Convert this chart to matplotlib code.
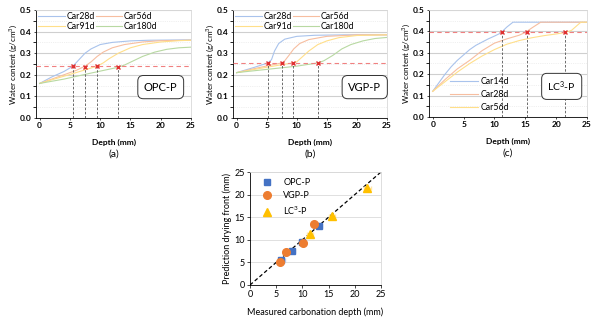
import numpy as np
import matplotlib
matplotlib.use("Agg")
import matplotlib.pyplot as plt
from matplotlib.ticker import MultipleLocator

# ---- data ----
# (a) OPC-P
opc_28_x = [0, 2, 4, 5.5, 6.5, 7.5, 8.5, 10, 12, 15, 18, 25]
opc_28_y = [0.16, 0.19, 0.215, 0.24, 0.27, 0.30, 0.32, 0.34, 0.35, 0.357, 0.36, 0.362]
opc_56_x = [0, 3, 6, 7.5, 8.5, 9.5, 10.5, 12, 14, 17, 20, 25]
opc_56_y = [0.16, 0.19, 0.22, 0.24, 0.26, 0.285, 0.305, 0.325, 0.34, 0.352, 0.358, 0.36]
opc_91_x = [0, 3, 6, 9.5, 10.5, 11.5, 13, 15, 17, 20, 23, 25]
opc_91_y = [0.16, 0.185, 0.21, 0.24, 0.255, 0.275, 0.30, 0.325, 0.34, 0.352, 0.358, 0.36]
opc_180_x = [0, 4, 8, 13, 14, 15.5, 17, 19, 21, 23, 25]
opc_180_y = [0.16, 0.18, 0.205, 0.235, 0.245, 0.265, 0.285, 0.305, 0.318, 0.325, 0.328]
opc_front = [5.5, 7.5, 9.5, 13.0]
opc_front_y = [0.24, 0.238, 0.24, 0.236]
opc_crit = 0.24

# (b) VGP-P
vgp_28_x = [0, 3, 5.2, 5.8, 6.3, 7, 8, 10, 13, 18, 25]
vgp_28_y = [0.21, 0.235, 0.255, 0.27, 0.31, 0.345, 0.365, 0.378, 0.383, 0.385, 0.385]
vgp_56_x = [0, 4, 7.5, 8, 8.7, 9.5, 10.5, 12, 15, 20, 25]
vgp_56_y = [0.21, 0.235, 0.255, 0.265, 0.29, 0.32, 0.345, 0.363, 0.378, 0.385, 0.385]
vgp_91_x = [0, 5, 9.3, 10, 11, 12, 13.5, 15, 17, 20, 25]
vgp_91_y = [0.21, 0.235, 0.255, 0.26, 0.285, 0.31, 0.34, 0.357, 0.372, 0.382, 0.385]
vgp_180_x = [0, 5, 10, 13.5, 14.5, 16, 17.5, 19, 21, 23, 25]
vgp_180_y = [0.21, 0.225, 0.24, 0.255, 0.265, 0.29, 0.32, 0.34, 0.357, 0.368, 0.373]
vgp_front = [5.2, 7.5, 9.3, 13.5]
vgp_front_y = [0.255, 0.255, 0.255, 0.255]
vgp_crit = 0.255

# (c) LC3-P
lc3_14_x = [0, 1, 2, 3, 4, 5, 6, 7, 8, 9, 10, 11, 12, 13, 25]
lc3_14_y = [0.12, 0.16, 0.2, 0.235, 0.265, 0.29, 0.315, 0.335, 0.35, 0.365, 0.378, 0.392, 0.42, 0.443, 0.443]
lc3_28_x = [0, 2, 4, 6, 8, 10, 12, 14, 15, 16, 17.5, 25]
lc3_28_y = [0.12, 0.175, 0.225, 0.265, 0.31, 0.345, 0.365, 0.382, 0.395, 0.415, 0.443, 0.443]
lc3_56_x = [0, 2, 4, 6, 8, 10, 12, 14, 16, 18, 20, 21.5, 22.5, 24, 25]
lc3_56_y = [0.12, 0.165, 0.21, 0.25, 0.285, 0.315, 0.34, 0.357, 0.37, 0.38, 0.388, 0.395, 0.405, 0.443, 0.443]
lc3_front = [11.2, 15.2, 21.4]
lc3_front_y = [0.395, 0.395, 0.395]
lc3_crit = 0.395

# (d) measured vs predicted
opc_meas = [6.0, 8.0, 10.0, 13.2]
opc_pred = [5.5, 7.5, 9.5, 13.0]
vgp_meas = [5.7, 6.9, 10.1, 12.3]
vgp_pred = [5.1, 7.4, 9.3, 13.5]
lc3_meas = [11.5, 15.6, 22.4]
lc3_pred = [11.2, 15.3, 21.5]

c_blue = "#a9c3ec"
c_orange = "#f7bea0"
c_yellow = "#ffdf8a"
c_green = "#b8d9a2"

plt.rcParams['font.family'] = ['Lato', 'DejaVu Sans']
plt.rcParams['mathtext.fontset'] = 'custom'
plt.rcParams['mathtext.rm'] = 'Lato'
plt.rcParams['mathtext.it'] = 'Lato:italic'
plt.rcParams['mathtext.bf'] = 'Lato:bold'
fig = plt.figure(figsize=(6, 3.21), dpi=100)


def px_axes(left, right, top, bottom):
    W, H = 600.0, 321.0
    return fig.add_axes([left / W, (H - bottom) / H, (right - left) / W, (bottom - top) / H])


def style_panel(ax):
    ax.set_xlim(-0.6, 25)
    ax.set_ylim(0, 0.5)
    ax.xaxis.set_major_locator(MultipleLocator(5))
    ax.yaxis.set_major_locator(MultipleLocator(0.1))
    ax.yaxis.set_minor_locator(MultipleLocator(0.05))
    ax.grid(True, axis='y', which='major', color='#cfcfcf', lw=0.8)
    ax.grid(True, axis='y', which='minor', color='#e2e2e2', lw=0.5, ls=':')
    ax.set_axisbelow(True)
    for s in ['top', 'right']:
        ax.spines[s].set_color('#d8d8d8')
        ax.spines[s].set_linewidth(0.6)
    for s in ['left', 'bottom']:
        ax.spines[s].set_color('black')
        ax.spines[s].set_linewidth(0.6)
    ax.tick_params(labelsize=6, width=0.5, length=1.5, pad=1.5)
    ax.yaxis.set_major_formatter(plt.FuncFormatter(lambda v, p: "%.1f" % v))
    for lab in ax.get_xticklabels() + ax.get_yticklabels():
        lab.set_fontweight('bold')
    ax.set_xlabel("Depth (mm)", fontsize=6, fontweight='bold', labelpad=7)
    ax.set_ylabel("Water content (g/cm$^3$)", fontsize=5.8, labelpad=1)


def draw_front(ax, xs, ys, crit):
    ax.axhline(crit, color='#f08080', ls=(0, (4, 3)), lw=0.8, zorder=3)
    for x, y in zip(xs, ys):
        ax.plot([x, x], [0, y], color='#555555', ls=(0, (3, 2)), lw=0.6, zorder=3)
    ax.plot(xs, ys, ls='none', marker='x', color='#e03030', ms=3, mew=1.0, zorder=5)


def label_box(ax, text, x, size=8):
    ax.text(x, 0.143, text, fontsize=size, ha='center', va='center', zorder=6,
            bbox=dict(boxstyle='round,pad=0.55,rounding_size=0.5', fc='white', ec='#333333', lw=0.7))


def top_legend(ax, lines):
    # row-wise order: 28d 56d / 91d 180d
    order = [lines[0], lines[2], lines[1], lines[3]]
    ax.legend(order, [l.get_label() for l in order], ncol=2, fontsize=6.3, frameon=False,
              loc='upper left', bbox_to_anchor=(-0.03, 1.05), handlelength=3.0,
              columnspacing=0.1, handletextpad=0.2, labelspacing=0.2, borderpad=0.3)


# (a)
ax1 = px_axes(36, 191, 10, 118)
style_panel(ax1)
la = [ax1.plot(opc_28_x, opc_28_y, color=c_blue, lw=0.8, label='Car28d')[0],
      ax1.plot(opc_56_x, opc_56_y, color=c_orange, lw=0.8, label='Car56d')[0],
      ax1.plot(opc_91_x, opc_91_y, color=c_yellow, lw=0.8, label='Car91d')[0],
      ax1.plot(opc_180_x, opc_180_y, color=c_green, lw=0.8, label='Car180d')[0]]
draw_front(ax1, opc_front, opc_front_y, opc_crit)
label_box(ax1, "OPC-P", 20.0)
top_legend(ax1, la)

# (b)
ax2 = px_axes(233, 387, 10, 118)
style_panel(ax2)
lb = [ax2.plot(vgp_28_x, vgp_28_y, color=c_blue, lw=0.8, label='Car28d')[0],
      ax2.plot(vgp_56_x, vgp_56_y, color=c_orange, lw=0.8, label='Car56d')[0],
      ax2.plot(vgp_91_x, vgp_91_y, color=c_yellow, lw=0.8, label='Car91d')[0],
      ax2.plot(vgp_180_x, vgp_180_y, color=c_green, lw=0.8, label='Car180d')[0]]
draw_front(ax2, vgp_front, vgp_front_y, vgp_crit)
label_box(ax2, "VGP-P", 21.3)
top_legend(ax2, lb)

# (c)
ax3 = px_axes(429, 587, 10, 117)
style_panel(ax3)
ax3.plot(lc3_14_x, lc3_14_y, color=c_blue, lw=0.8, label='Car14d')
ax3.plot(lc3_28_x, lc3_28_y, color=c_orange, lw=0.8, label='Car28d')
ax3.plot(lc3_56_x, lc3_56_y, color=c_yellow, lw=0.8, label='Car56d')
draw_front(ax3, lc3_front, lc3_front_y, lc3_crit)
label_box(ax3, "LC$^3$-P", 20.9, size=7.5)
ax3.legend(fontsize=6.3, frameon=False, loc='lower left', bbox_to_anchor=(0.08, -0.03),
           handlelength=3.2, handletextpad=0.3, labelspacing=0.5)

for ax, lab in [(ax1, "(a)"), (ax2, "(b)"), (ax3, "(c)")]:
    ax.text(0.5, -0.335, lab, transform=ax.transAxes, ha='center', va='center', fontsize=7.5)

# (d)
ax4 = px_axes(250, 381, 172, 285)
ax4.plot([0, 25], [0, 25], color='black', ls=(0, (3, 2)), lw=0.9, zorder=2)
ax4.errorbar(opc_meas, opc_pred, xerr=0.6, fmt='none', ecolor='#c8d6f0', elinewidth=0.8, capsize=1.5, zorder=3)
ax4.errorbar(vgp_meas, vgp_pred, xerr=0.6, fmt='none', ecolor='#f6cdb5', elinewidth=0.8, capsize=1.5, zorder=3)
ax4.errorbar(lc3_meas, lc3_pred, xerr=0.6, fmt='none', ecolor='#ffe7a8', elinewidth=0.8, capsize=1.5, zorder=3)
ax4.plot(opc_meas, opc_pred, ls='none', marker='s', color='#4472c4', ms=5, label='OPC-P', zorder=4)
ax4.plot(vgp_meas, vgp_pred, ls='none', marker='o', color='#ed7d31', ms=5.5, label='VGP-P', zorder=5)
ax4.plot(lc3_meas, lc3_pred, ls='none', marker='^', color='#ffc000', ms=5.5, label='LC$^3$-P', zorder=4)
ax4.set_xlim(0, 25)
ax4.set_ylim(0, 25)
ax4.xaxis.set_major_locator(MultipleLocator(5))
ax4.yaxis.set_major_locator(MultipleLocator(5))
ax4.grid(True, axis='y', color='#e0e0e0', lw=0.7)
ax4.set_axisbelow(True)
for s in ['top', 'right']:
    ax4.spines[s].set_color('#d8d8d8')
    ax4.spines[s].set_linewidth(0.6)
for s in ['left', 'bottom']:
    ax4.spines[s].set_linewidth(0.6)
ax4.tick_params(labelsize=6.5, width=0.5, length=2, pad=1.5)
ax4.set_xlabel("Measured carbonation depth (mm)", fontsize=6.5, labelpad=6)
ax4.set_ylabel("Prediction drying front (mm)", fontsize=6.5, labelpad=2)
ax4.legend(fontsize=6.5, frameon=False, loc='upper left', bbox_to_anchor=(0.0, 1.02),
           handletextpad=0.8, labelspacing=0.5)

fig.savefig("out.png", dpi=100, facecolor='white')
